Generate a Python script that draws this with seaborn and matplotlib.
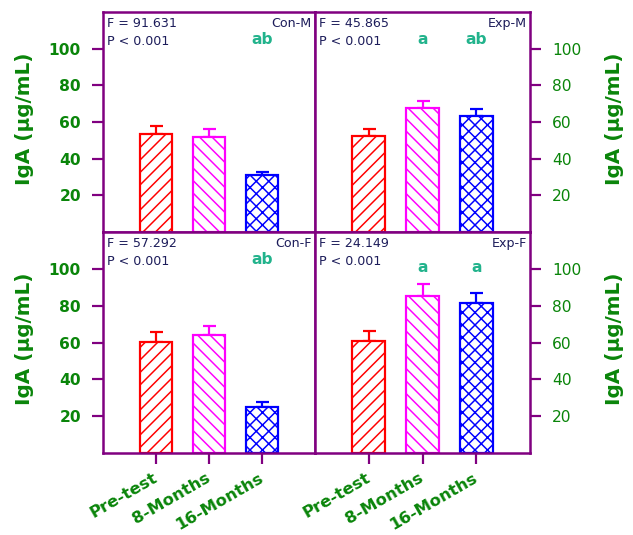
import matplotlib
matplotlib.use("Agg")
import matplotlib.pyplot as plt
import seaborn as sns
import numpy as np
import pandas as pd

sns.set_style("white")
plt.rcParams['font.family'] = ['DejaVu Sans']

# ---- data ----
categories = ["Pre-test", "8-Months", "16-Months"]
panel_names = ["Con-M", "Exp-M", "Con-F", "Exp-F"]
f_values = ["91.631", "45.865", "57.292", "24.149"]
p_text = "P < 0.001"
means = {
    "Con-M": [53.5, 52.0, 31.0],
    "Exp-M": [52.5, 67.5, 63.5],
    "Con-F": [60.5, 64.0, 25.0],
    "Exp-F": [61.0, 85.5, 81.5],
}
errors = {
    "Con-M": [4.5, 4.0, 2.0],
    "Exp-M": [3.5, 4.0, 3.5],
    "Con-F": [5.0, 5.0, 2.5],
    "Exp-F": [5.5, 6.5, 5.5],
}
# significance letters: (category index, letter, y)
letters = {
    "Con-M": [(2, "ab", 102.5)],
    "Exp-M": [(1, "a", 102.5), (2, "ab", 102.5)],
    "Con-F": [(2, "ab", 102.5)],
    "Exp-F": [(1, "a", 98.5), (2, "a", 98.5)],
}
yticks = [20, 40, 60, 80, 100]
ylabel = "IgA (μg/mL)"

bar_colors = ["#ff0000", "#ff00ff", "#0000ff"]
hatches = ["//", "\\\\", "xx"]
purple = "#800080"
green = "#0a850a"
navy = "#1c1c5a"
teal = "#22b38c"

DPI = 75
W, H = 633, 535
def pt(px):
    return px * 72.0 / DPI

fig = plt.figure(figsize=(W / DPI, H / DPI), dpi=DPI)

def box(x0, y0, x1, y1):
    return [x0 / W, 1 - y1 / H, (x1 - x0) / W, (y1 - y0) / H]

boxes = [box(103, 12, 315, 232), box(315, 12, 530, 232),
         box(103, 232, 315, 453), box(315, 232, 530, 453)]

plt.rcParams['hatch.linewidth'] = pt(1.5)

for i, name in enumerate(panel_names):
    ax = fig.add_axes(boxes[i])
    df = pd.DataFrame({"cat": categories, "val": means[name]})
    sns.barplot(data=df, x="cat", y="val", order=categories, color="white",
                width=0.62, errorbar=None, ax=ax, zorder=2)
    for j, p in enumerate(ax.patches):
        p.set_facecolor("white")
        p.set_edgecolor(bar_colors[j])
        p.set_hatch(hatches[j])
        p.set_linewidth(pt(2.2))
    xs = np.arange(len(categories))
    for j in range(len(categories)):
        ax.errorbar(xs[j], means[name][j], yerr=[[0], [errors[name][j]]],
                    color=bar_colors[j], capsize=pt(6.5), capthick=pt(2.2),
                    elinewidth=pt(2.2), zorder=1)
    ax.set_xlim(-1, 3)
    ax.set_ylim(0, 120)
    ax.set_xlabel("")
    ax.set_ylabel("")
    for s in ax.spines.values():
        s.set_color(purple)
        s.set_linewidth(pt(2.5))
        s.set_visible(True)
    ax.set_yticks(yticks)
    ax.tick_params(axis="y", length=pt(11), width=pt(2.2), color=purple,
                   direction="out", labelsize=pt(15.5), labelcolor=green,
                   pad=pt(11))
    for lab in ax.get_yticklabels():
        lab.set_fontweight("bold")
    left = (i % 2 == 0)
    if left:
        ax.yaxis.tick_left()
    else:
        ax.yaxis.tick_right()
    bottom = i >= 2
    if bottom:
        ax.set_xticks(xs)
        ax.set_xticklabels(categories)
        ax.tick_params(axis="x", length=pt(11), width=pt(2.2), color=purple,
                       direction="out", labelsize=pt(16.5), labelcolor=green,
                       pad=pt(13), bottom=True)
        for lab in ax.get_xticklabels():
            lab.set_rotation(30)
            lab.set_ha("right")
            lab.set_va("center")
            lab.set_rotation_mode("anchor")
            lab.set_fontweight("bold")
    else:
        ax.set_xticks([])
    ax.text(0.02, 0.932, f"F = {f_values[i]}", transform=ax.transAxes,
            fontsize=pt(12.6), color=navy, va="baseline", ha="left")
    ax.text(0.02, 0.85, p_text, transform=ax.transAxes,
            fontsize=pt(12.6), color=navy, va="baseline", ha="left")
    ax.text(0.985, 0.932, name, transform=ax.transAxes,
            fontsize=pt(12.6), color=navy, va="baseline", ha="right")
    for (k, txt, yv) in letters[name]:
        ax.text(xs[k], yv, txt, fontsize=pt(15.5), color=teal, ha="center",
                va="baseline", fontweight="bold")

# y-axis titles, one per panel side
for (xc, yc) in [(24, 119), (615, 119), (24, 339), (615, 339)]:
    fig.text(xc / W, 1 - yc / H, ylabel, rotation=90, ha="center", va="center",
             fontsize=pt(20), fontweight="bold", color=green)

fig.savefig("out.png", dpi=DPI)
